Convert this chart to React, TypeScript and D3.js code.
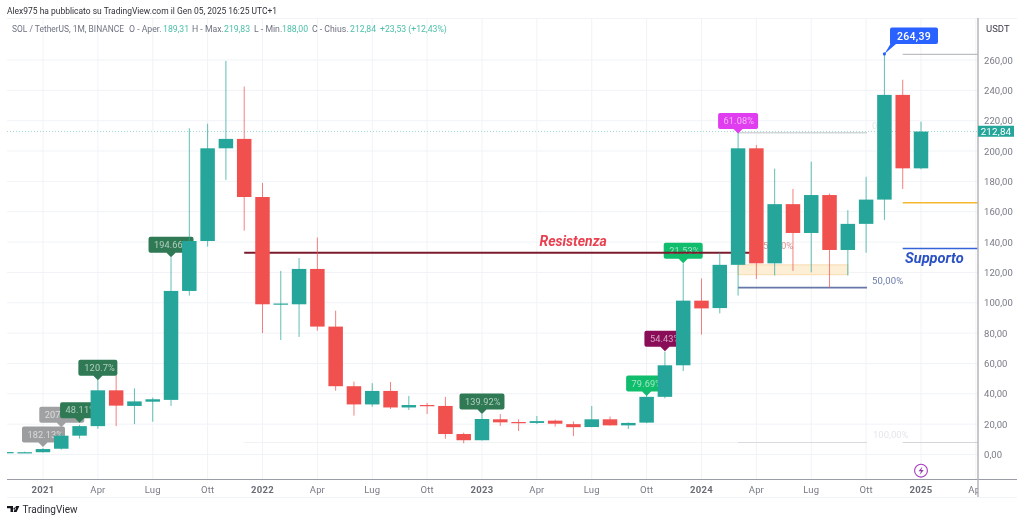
import React from 'react';
import * as d3 from 'd3';

// monthly SOL/USDT candles, Nov 2020 -> Jan 2025
const opens = [1.5, 1.5, 1.5, 3.8, 12.4, 18.7, 42.3, 32, 34.8, 36, 107.8, 140.7, 201.8, 208, 169.7, 99, 99, 122.3, 84.3, 45, 33, 41.9, 31, 32.6, 32, 13.5, 9.4, 23.2, 21.4, 20.8, 22.3, 20, 18.1, 23.2, 19.2, 21, 38, 58.8, 101.4, 96.5, 125, 201.8, 126, 165, 146, 171, 134.8, 152, 168, 237, 188.6];
const highs = [1.8, 1.9, 4.2, 14, 19.5, 49, 52, 43.6, 37.5, 130, 215, 218, 259.4, 242.5, 179, 121, 129.5, 143, 94.8, 48, 47, 47.8, 38.6, 34, 38, 14.4, 26.7, 26.7, 23.2, 25.4, 23, 21.8, 32, 25, 21.2, 42, 67.8, 126, 116, 133, 212, 204, 188.4, 175, 193, 172, 161, 183, 264, 247, 219.4];
const lows = [1.1, 1.2, 1.3, 3.2, 10.5, 17, 18.7, 20, 21.6, 32, 104.7, 137, 181, 147.5, 80, 75.5, 77.5, 81.6, 42, 25.6, 31.5, 30, 29.3, 26.7, 10.4, 7.4, 9.2, 18.8, 15.5, 20, 18.4, 12.2, 18, 19, 16.8, 20.6, 37, 55, 79, 93, 104.7, 115.7, 118, 121, 120, 110, 118, 133, 154.6, 175, 188];
const closes = [1.6, 1.5, 3.6, 12.4, 18.7, 42.3, 32.2, 35, 36.4, 107.8, 140.7, 201.8, 208, 169.7, 99, 99.5, 122.3, 84.3, 45, 33, 41.9, 31, 32.6, 32, 13.5, 9.4, 23.4, 21.2, 20.8, 22, 20.3, 18, 23.2, 19.2, 20.8, 38, 58.8, 101.4, 96.3, 125, 201.8, 126, 165, 146, 171, 134.8, 152, 168, 237, 188.6, 212.84];

const timeLabels = ['2021', 'Apr', 'Lug', 'Ott', '2022', 'Apr', 'Lug', 'Ott', '2023', 'Apr', 'Lug', 'Ott', '2024', 'Apr', 'Lug', 'Ott', '2025', 'Apr'];
const priceTicks = [0, 20, 40, 60, 80, 100, 120, 140, 160, 180, 200, 220, 240, 260];

const UP = '#26a69a';
const DOWN = '#f0514f';
const FONT = 'Roboto, "Noto Sans", sans-serif';

const x = d3.scaleLinear().domain([0, 50]).range([6.4, 921]);
const y = d3.scaleLinear().domain([0, 260]).range([454.5, 60]);
const priceFmt = d3.formatLocale({ decimal: ',', thousands: '.', grouping: [3], currency: ['', ''] }).format('.2f');

// little flag with a pointer under it, tip sits at (tipX, tipY)
function Callout({ idx, price, left, width, fill, text, textX }: any) {
  const tx = x(idx);
  const ty = y(price);
  const bottom = ty - 4.5;
  const top = bottom - 16;
  const l = tx - left;
  const r = l + width;
  const d = `M${l + 2},${top}H${r - 2}Q${r},${top} ${r},${top + 2}V${bottom - 2}Q${r},${bottom} ${r - 2},${bottom}H${tx + 4.5}L${tx},${ty}L${tx - 4.5},${bottom}H${l + 2}Q${l},${bottom} ${l},${bottom - 2}V${top + 2}Q${l},${top} ${l + 2},${top}Z`;
  return (
    <g>
      <path d={d} fill={fill} />
      <text x={l + (textX ?? 5.5)} y={top + 11.3} fontSize={9.2} letterSpacing={0.1} fill="#fff" fillOpacity={0.62} fontFamily={FONT}>{text}</text>
    </g>
  );
}

function Level({ from, to, value, color, sw = 1 }: any) {
  return <line x1={x(from)} x2={x(to)} y1={y(value)} y2={y(value)} stroke={color} strokeWidth={sw} />;
}

export default function App() {
  const bodyW = 14.5;
  const lastY = y(closes[closes.length - 1]);

  return (
    <svg width={1024} height={521} style={{ position: 'absolute', left: 0, top: 0, background: '#fff', filter: 'blur(0.45px)' }}>
      <defs>
        <clipPath id="timeClip"><rect x={0} y={480} width={978} height={20} /></clipPath>
        <clipPath id="plotClip"><rect x={7} y={18} width={971} height={461} /></clipPath>
      </defs>

      {/* grid */}
      <g stroke="#f0f3f7" strokeWidth={1}>
        {priceTicks.map((t) => <line key={t} x1={7} x2={978} y1={y(t)} y2={y(t)} />)}
        {timeLabels.map((t, i) => <line key={i} x1={x(2 + i * 3)} x2={x(2 + i * 3)} y1={18} y2={479} />)}
        <line x1={7} x2={1017} y1={18.5} y2={18.5} />
        <line x1={7} x2={1017} y1={497.5} y2={497.5} />
      </g>

      {/* last price line */}
      <line x1={7} x2={978} y1={lastY} y2={lastY} stroke={UP} strokeOpacity={0.45} strokeDasharray="1 2" />

      {/* fib levels */}
      <Level from={40} to={47.05} value={212} color="#d3d5da" sw={1.5} />
      <Level from={13} to={40} value={7.9} color="#f1f2f4" />
      <Level from={40} to={47.05} value={7.9} color="#d8dadf" sw={1.2} />
      <Level from={49} to={53.1} value={7.9} color="#d3d5da" sw={1.2} />
      <Level from={40} to={47.05} value={110} color="#6678a8" sw={1.6} />
      <Level from={49} to={53.1} value={263.7} color="#bcbec4" sw={1.2} />
      <Level from={49} to={53.1} value={166} color="#f5b731" sw={1.5} />
      <Level from={49} to={53.1} value={135.8} color="#3563d8" sw={1.5} />
      <text x={872} y={129} fontSize={9.5} fill="#e4e6ea" fontFamily={FONT}>0</text>
      <text x={872} y={283.5} fontSize={9.5} letterSpacing={0.2} fill="#6a7cab" fontFamily={FONT}>50,00%</text>
      <text x={873} y={438} fontSize={9.5} fill="#e4e6ea" fontFamily={FONT}>100,00%</text>
      <text x={763} y={248.5} fontSize={9.5} fill="#d98f95" fontFamily={FONT}>50,00%</text>

      {/* flags, candles paint over them */}
      <Callout idx={3} price={18} left={22} width={45} fill="#a0a1a3" text="207" />
      <Callout idx={2} price={5} left={21} width={43} fill="#9c9d9f" text="182.13%" />
      <Callout idx={4} price={21} left={19.5} width={42} fill="#2f7a55" text="48.11%" />
      <Callout idx={5} price={49} left={19.5} width={39} fill="#2f7a55" text="120.7%" textX={6} />
      <Callout idx={9} price={130} left={22.5} width={45} fill="#2f7a55" text="194.66%" />
      <Callout idx={26} price={26.7} left={22.5} width={45} fill="#2f7a55" text="139.92%" />
      <Callout idx={35} price={38.5} left={20.5} width={40} fill="#0fbd6c" text="79.69%" />
      <Callout idx={36} price={68} left={20.5} width={40} fill="#8a0d58" text="54.43%" />
      <Callout idx={37} price={126} left={19.5} width={39} fill="#0fbd6c" text="21.53%" />
      <Callout idx={40} price={211.5} left={20} width={40} fill="#e03df0" text="61.08%" />

      {/* resistance */}
      <Level from={13} to={41} value={133} color="#7c1b2e" sw={2} />
      <text x={539.5} y={246} fontSize={14} fontWeight={700} fontStyle="italic" fill="#e8404f" fontFamily={FONT}>Resistenza</text>

      {/* order block */}
      <rect x={x(40)} y={y(125)} width={x(46) - x(40)} height={y(118.5) - y(125)} fill="#fdeed6" stroke="#f9dcae" strokeWidth={1} />

      {/* candles */}
      <g clipPath="url(#plotClip)">
        {closes.map((c, i) => {
          const o = opens[i];
          const col = c >= o ? UP : DOWN;
          const top = y(Math.max(o, c));
          const h = Math.max(1.2, y(Math.min(o, c)) - top);
          return (
            <g key={i}>
              <line x1={x(i)} x2={x(i)} y1={y(highs[i])} y2={y(lows[i])} stroke={col} strokeOpacity={0.72} />
              <rect x={x(i) - bodyW / 2} y={top} width={bodyW} height={h} fill={col} />
            </g>
          );
        })}
      </g>

      {/* high marker */}
      <circle cx={x(48)} cy={y(264)} r={1.6} fill="#2962ff" />
      <path
        d={`M${x(48)},${y(264)}L${x(48) + 6},44H890V29.5Q890,27.5 892,27.5H936Q938,27.5 938,29.5V42Q938,44 936,44H896L${x(48)},${y(264)}Z`}
        fill="#2962ff"
      />
      <text x={914} y={39.5} textAnchor="middle" fontSize={10.5} fontWeight={500} letterSpacing={0.3} fill="#fff" fontFamily={FONT}>264,39</text>

      <text x={905} y={262.5} fontSize={14.6} fontWeight={700} fontStyle="italic" fill="#2a50c4" fontFamily={FONT}>Supporto</text>

      {/* axes */}
      <line x1={7} x2={1017} y1={479.5} y2={479.5} stroke="#9a9da5" />
      <line x1={978} x2={978} y1={18} y2={497} stroke="#b4b6bb" strokeWidth={1.5} />
      <g fontFamily={FONT} fontSize={9.5} fill="#787b86" letterSpacing={0.05}>
        {priceTicks.map((t) => (
          <text key={t} x={984} y={y(t) + 3.5}>{priceFmt(t)}</text>
        ))}
      </g>
      <g clipPath="url(#timeClip)" fontFamily={FONT} fontSize={9.5} fill="#787b86" textAnchor="middle">
        {timeLabels.map((t, i) => (
          <text key={i} x={x(2 + i * 3)} y={492.5} fontWeight={/^\d/.test(t) ? 700 : 400} letterSpacing={/^\d/.test(t) ? 0.3 : 0.1} fill={/^\d/.test(t) ? '#6a6d76' : '#787b86'}>{t}</text>
        ))}
      </g>
      <text x={986} y={32} fontSize={9.5} fill="#3a3d46" fontFamily={FONT}>USDT</text>
      <rect x={978} y={lastY - 5.8} width={36} height={11} fill={UP} />
      <text x={996} y={lastY + 3.4} textAnchor="middle" fontSize={9.8} letterSpacing={0.2} fill="#fff" fontFamily={FONT}>{priceFmt(closes[closes.length - 1])}</text>

      {/* lightning */}
      <circle cx={921} cy={470.7} r={6.4} fill="#fff" stroke="#a63cc0" strokeWidth={1.1} />
      <path d="M922.5,466.5L918.5,471.3H921L919.7,475L923.7,470H921.2Z" fill="#8e3aa8" />

      {/* header */}
      <text x={7} y={13.5} fontSize={8.9} textLength={270} lengthAdjust="spacingAndGlyphs" fill="#2f3138" fontFamily={FONT}>Alex975 ha pubblicato su TradingView.com il Gen 05, 2025 16:25 UTC+1</text>
      <g fontSize={8.7} fontFamily={FONT} fill="#6f7280">
        <text x={12} y={31.5} textLength={112} lengthAdjust="spacingAndGlyphs">SOL / TetherUS, 1M, BINANCE</text>
        <text x={129} y={31.5}>O - Aper.</text>
        <text x={163} y={31.5} fill="#4cbfa8">189,31</text>
        <text x={192} y={31.5}>H - Max.</text>
        <text x={224} y={31.5} fill="#4cbfa8">219,83</text>
        <text x={254} y={31.5}>L - Min.</text>
        <text x={282} y={31.5} fill="#4cbfa8">188,00</text>
        <text x={312} y={31.5}>C - Chius.</text>
        <text x={350} y={31.5} fill="#4cbfa8">212,84</text>
        <text x={380} y={31.5} fill="#4cbfa8">+23,53 (+12,43%)</text>
      </g>

      {/* logo */}
      <path d="M7,506H13V512H10.5V508.2H7ZM14.6,507.4a1.2,1.2 0 1 0 0.01,0ZM16,506H19.4L16.6,512H13.6Z" fill="#14161c" />
      <text x={22.5} y={513} fontSize={10} fill="#2a2c33" fontFamily={FONT}>TradingView</text>
    </svg>
  );
}
